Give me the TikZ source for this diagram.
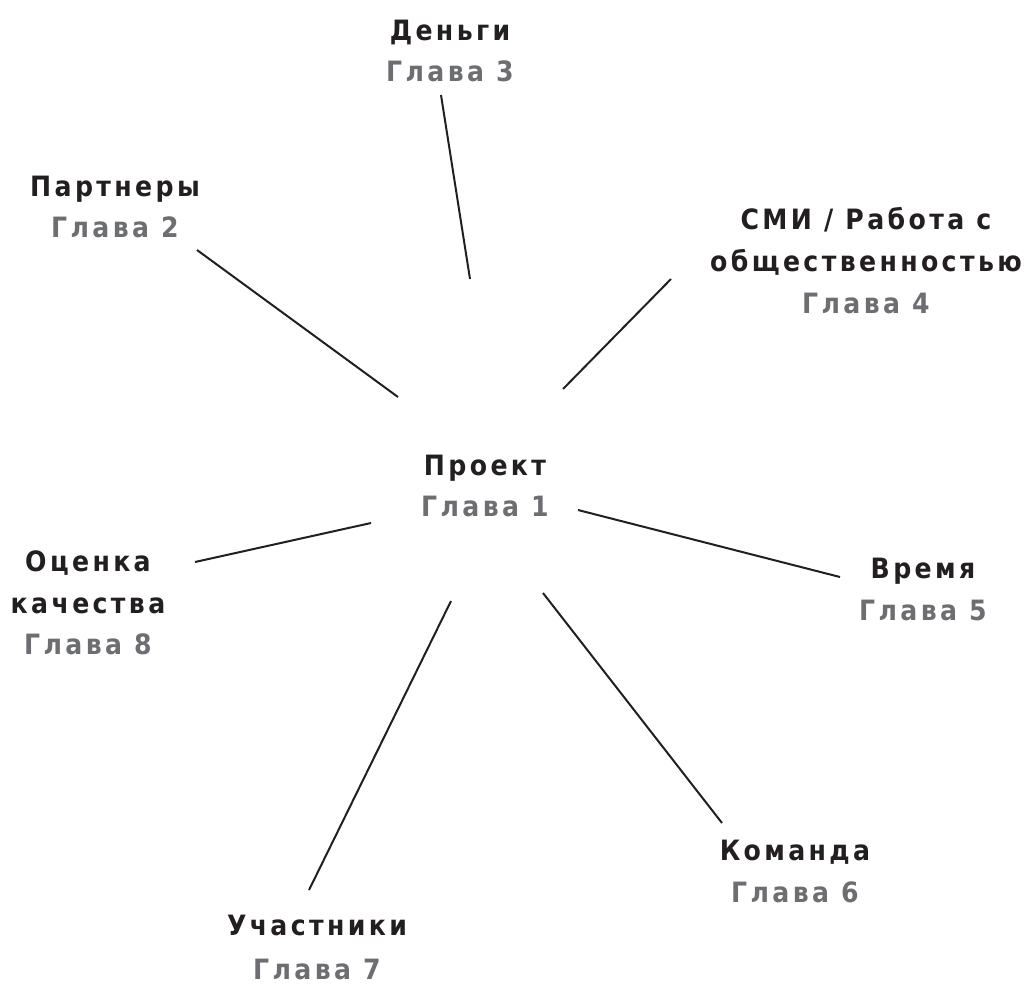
\documentclass[tikz,border=0pt]{standalone}
\usepackage{fontspec}
\setmainfont{DejaVu Sans}[LetterSpace=12,FakeStretch=0.9]
\definecolor{ink}{HTML}{231F20}
\definecolor{chap}{HTML}{6D6E71}
\begin{document}
\begin{tikzpicture}[x=1pt,y=-1pt,
  lbl/.style={font=\fontsize{28}{42}\selectfont\bfseries, text=ink, inner sep=0pt, anchor=base},
  chp/.style={font=\fontsize{28}{42}\selectfont\bfseries, text=chap, inner sep=0pt, anchor=base},
  spoke/.style={draw=ink, line width=2pt}]
\useasboundingbox (0,0) rectangle (1026,986);
\node[lbl] (t3) at (450,40) {Деньги};
\node[chp] (g3) at (450,81) {Глава 3};
\node[lbl] (t2) at (115,196) {Партнеры};
\node[chp] (g2) at (115,237) {Глава 2};
\node[lbl] (t4a) at (866,229) {СМИ / Работа с};
\node[lbl] (t4b) at (866,271) {общественностью};
\node[chp] (g4) at (866,313) {Глава 4};
\node[lbl] (t1) at (485,475) {Проект};
\node[chp] (g1) at (485,516) {Глава 1};
\node[lbl] (t5) at (923,578) {Время};
\node[chp] (g5) at (923,620) {Глава 5};
\node[lbl] (t8a) at (88,571) {Оценка};
\node[lbl] (t8b) at (88,613) {качества};
\node[chp] (g8) at (88,654) {Глава 8};
\node[lbl] (t6) at (795,860) {Команда};
\node[chp] (g6) at (795,902) {Глава 6};
\node[lbl] (t7) at (317,935) {Участники};
\node[chp] (g7) at (317,979) {Глава 7};
\coordinate (a3) at (441,95);  \coordinate (b3) at (470,279);
\coordinate (a2) at (197,250); \coordinate (b2) at (398,397);
\coordinate (a4) at (671,279); \coordinate (b4) at (563,389);
\coordinate (a5) at (840,577); \coordinate (b5) at (578,510);
\coordinate (a6) at (722,823); \coordinate (b6) at (543,593);
\coordinate (a7) at (309,890); \coordinate (b7) at (451,601);
\coordinate (a8) at (195,562); \coordinate (b8) at (371,523);
\foreach \i in {2,...,8} \draw[spoke] (a\i) -- (b\i);
\end{tikzpicture}
\end{document}
